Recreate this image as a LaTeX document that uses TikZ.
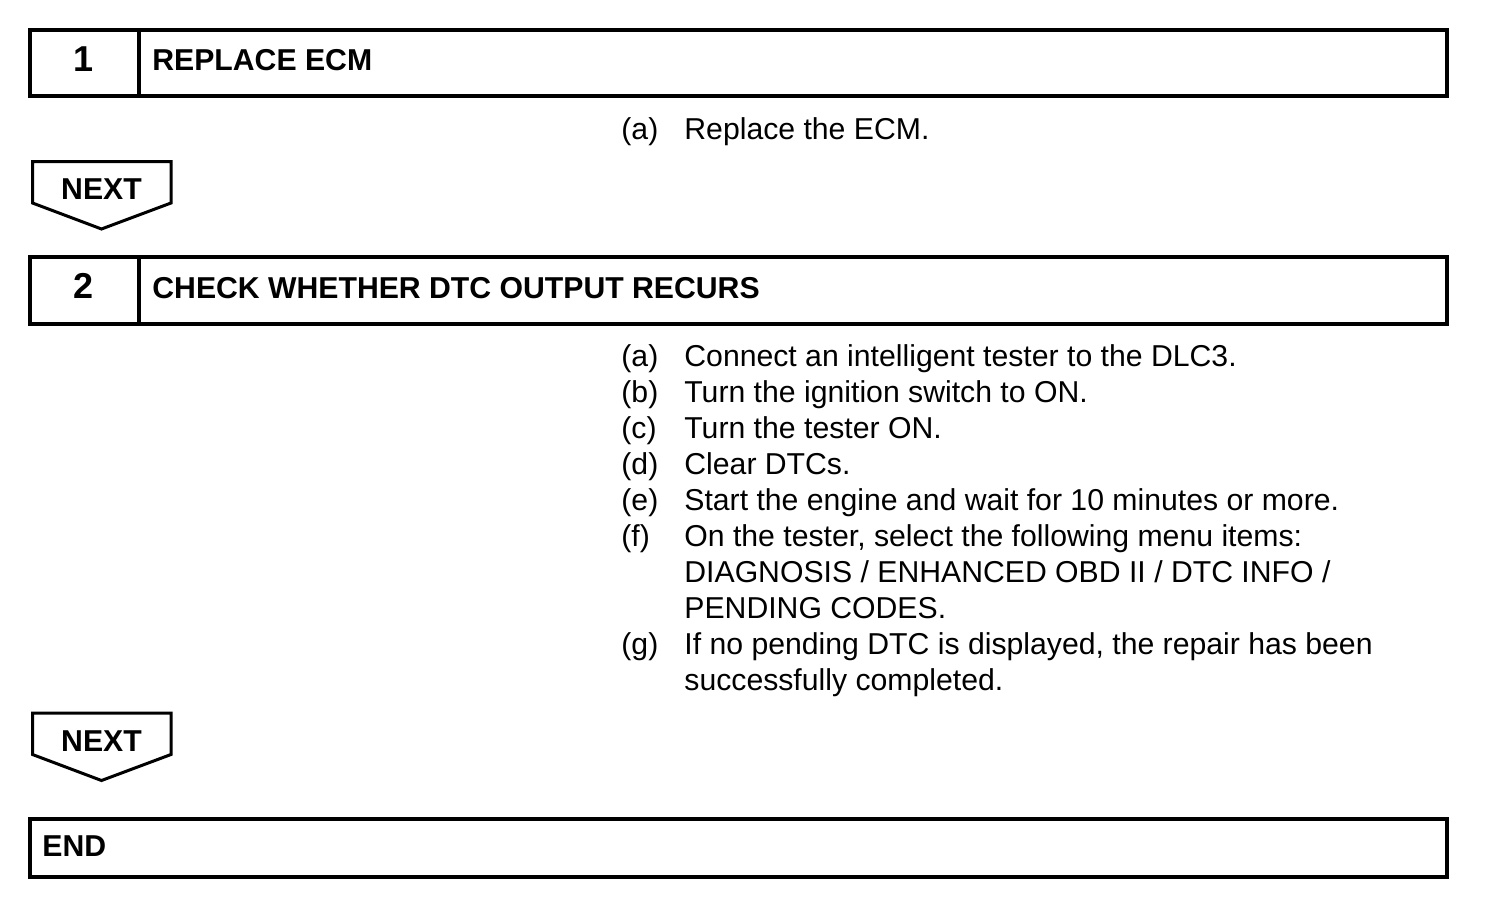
\documentclass[tikz,border=0pt]{standalone}
\usepackage{fontspec}
\setmainfont{Liberation Sans}
\begin{document}
\begin{tikzpicture}[x=0.5pt,y=-0.5pt,
  stepbox/.style={draw=black,line width=2pt},
  nextbox/.style={draw=black,line width=1.5pt,line join=miter},
  txt/.style={anchor=base west,inner sep=0pt,font=\fontsize{15.1}{18}\selectfont},
  btxt/.style={inner sep=0pt,font=\fontsize{15.1}{18}\selectfont\bfseries},
  numtxt/.style={inner sep=0pt,anchor=base,font=\fontsize{18}{21}\selectfont\bfseries},
]
\useasboundingbox (0,0) rectangle (1504,904);
% Step 1
\draw[stepbox] (30,30) rectangle (1447,96);
\draw[stepbox] (139,30) -- (139,96);
\node[numtxt] (n1) at (84,72) {1};
\node[btxt,anchor=base west] (h1) at (152,71) {REPLACE ECM};
\node[txt] (l1a) at (621,140) {(a)};
\node[txt] (t1a) at (684,140) {Replace the ECM.};
% NEXT 1
\draw[nextbox] (32.5,161.5) -- (171,161.5) -- (171,203) -- (101.5,229) -- (32.5,203) -- cycle;
\node[btxt,anchor=base] (next1) at (101.5,199.5) {NEXT};
% Step 2
\draw[stepbox] (30,257) rectangle (1447,324);
\draw[stepbox] (139,257) -- (139,324);
\node[numtxt] (n2) at (84,298) {2};
\node[btxt,anchor=base west] (h2) at (152,298) {CHECK WHETHER DTC OUTPUT RECURS};
\node[txt] (l2a) at (621,366) {(a)};
\node[txt] (t2a) at (684,366) {Connect an intelligent tester to the DLC3.};
\node[txt] (l2b) at (621,402) {(b)};
\node[txt] (t2b) at (684,402) {Turn the ignition switch to ON.};
\node[txt] (l2c) at (621,438) {(c)};
\node[txt] (t2c) at (684,438) {Turn the tester ON.};
\node[txt] (l2d) at (621,474) {(d)};
\node[txt] (t2d) at (684,474) {Clear DTCs.};
\node[txt] (l2e) at (621,510) {(e)};
\node[txt] (t2e) at (684,510) {Start the engine and wait for 10 minutes or more.};
\node[txt] (l2f) at (621,546) {(f)};
\node[txt] (t2f) at (684,546) {On the tester, select the following menu items:};
\node[txt] (t2f2) at (684,582) {DIAGNOSIS / ENHANCED OBD II / DTC INFO /};
\node[txt] (t2f3) at (684,618) {PENDING CODES.};
\node[txt] (l2g) at (621,654) {(g)};
\node[txt] (t2g) at (684,654) {If no pending DTC is displayed, the repair has been};
\node[txt] (t2g2) at (684,690) {successfully completed.};
% NEXT 2
\draw[nextbox] (32.5,713) -- (171,713) -- (171,754.5) -- (101.5,780.5) -- (32.5,754.5) -- cycle;
\node[btxt,anchor=base] (next2) at (101.5,751) {NEXT};
% END
\draw[stepbox] (30,818.5) rectangle (1447,877);
\node[btxt,anchor=base west] (endt) at (42,856) {END};
\end{tikzpicture}
\end{document}
